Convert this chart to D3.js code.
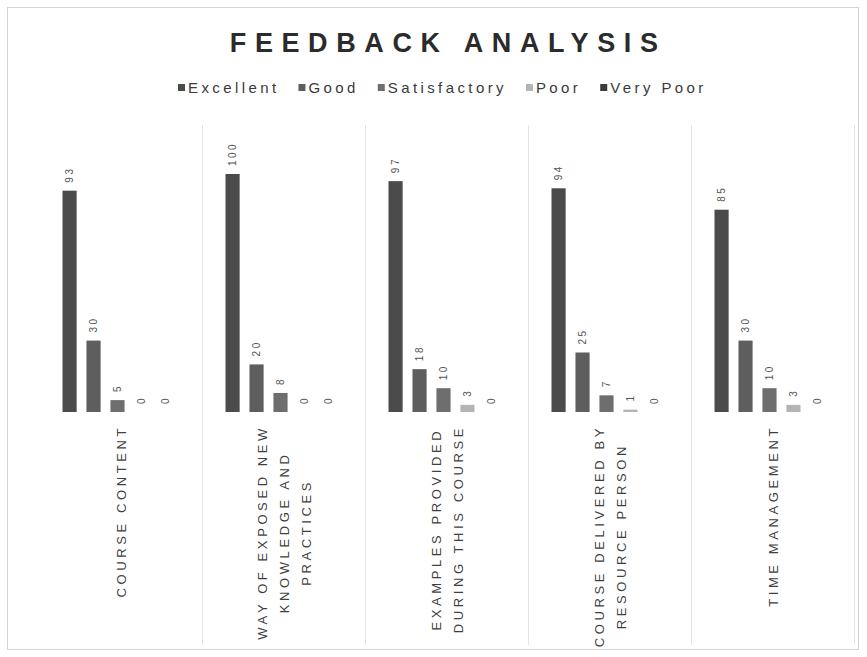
<!DOCTYPE html>
<html>
<head>
<meta charset="utf-8">
<script src="https://cdn.jsdelivr.net/npm/d3@7"></script>
<style>
  html, body { margin: 0; padding: 0; background: #ffffff; }
  svg { display: block; font-family: "Liberation Sans", Arial, sans-serif; }
</style>
</head>
<body>
<svg id="chart" width="867" height="657"></svg>
<script>
// ---- data ----
const title = "FEEDBACK ANALYSIS";
const categories = [
  "COURSE CONTENT",
  "WAY OF EXPOSED NEW KNOWLEDGE AND PRACTICES",
  "EXAMPLES PROVIDED DURING THIS COURSE",
  "COURSE DELIVERED BY RESOURCE PERSON",
  "TIME MANAGEMENT"
];
const categoryLines = [
  ["COURSE CONTENT"],
  ["WAY OF EXPOSED NEW", "KNOWLEDGE AND", "PRACTICES"],
  ["EXAMPLES PROVIDED", "DURING THIS COURSE"],
  ["COURSE DELIVERED BY", "RESOURCE PERSON"],
  ["TIME MANAGEMENT"]
];
const series = ["Excellent", "Good", "Satisfactory", "Poor", "Very Poor"];
const excellent    = [93, 100, 97, 94, 85];
const good         = [30, 20, 18, 25, 30];
const satisfactory = [5, 8, 10, 7, 10];
const poor         = [0, 0, 3, 1, 3];
const veryPoor     = [0, 0, 0, 0, 0];
const seriesValues = [excellent, good, satisfactory, poor, veryPoor];
const colors = ["#4b4b4b", "#5e5e5e", "#6e6e6e", "#b4b4b4", "#3a3a3a"];

// ---- layout ----
const svg = d3.select("#chart");
const plotLeft = 39.5, plotRight = 854.5, baseY = 412, topY = 174;

// border
svg.append("rect").attr("x", 7.5).attr("y", 7.5).attr("width", 851).attr("height", 642)
  .attr("fill", "none").attr("stroke", "#d4d4d4").attr("stroke-width", 1);

// title
svg.append("text").attr("x", 444 + 4.2).attr("y", 52)
  .attr("text-anchor", "middle").attr("font-size", 27).attr("font-weight", "bold")
  .attr("letter-spacing", "8.6px").attr("fill", "#2b2b2b").text(title);

// scales
const x0 = d3.scaleBand().domain(categories).range([plotLeft, plotRight]).padding(0);
const bw = x0.bandwidth();
const x1 = d3.scaleBand().domain(series).range([23, 133]).paddingInner(0.41).paddingOuter(0);
const y = d3.scaleLinear().domain([0, 100]).range([baseY, topY]);

// separators
svg.append("g").selectAll("line").data(categories).join("line")
  .attr("x1", d => x0(d) + bw).attr("x2", d => x0(d) + bw)
  .attr("y1", 125).attr("y2", 645)
  .attr("stroke", "#e4e4e4").attr("stroke-width", 1);

// legend
const legend = svg.append("g");
const legItems = legend.selectAll("g").data(series).join("g");
legItems.append("rect").attr("width", 7).attr("height", 7).attr("y", -9)
  .attr("fill", (d, i) => colors[i]);
legItems.append("text").attr("x", 10).attr("y", 0).attr("font-size", 15)
  .attr("letter-spacing", "3.4px").attr("fill", "#3a3a3a").text(d => d);
let lx = 0; const offs = [];
legItems.each(function () {
  const t = d3.select(this).select("text").node().getComputedTextLength();
  offs.push(lx); lx += 10 + t + 19;
});
legItems.attr("transform", (d, i) => `translate(${178 + offs[i]},93)`);

// bars
const groups = svg.append("g").selectAll("g").data(categories).join("g")
  .attr("transform", d => `translate(${x0(d)},0)`);
groups.selectAll("rect").data((d, ci) => series.map((s, si) => ({ s, si, v: seriesValues[si][ci] })))
  .join("rect")
  .attr("x", d => x1(d.s)).attr("width", x1.bandwidth())
  .attr("y", d => y(d.v)).attr("height", d => baseY - y(d.v))
  .attr("fill", d => colors[d.si]);

// value labels (rotated)
groups.selectAll("text.val").data((d, ci) => series.map((s, si) => ({ s, si, v: seriesValues[si][ci] })))
  .join("text").attr("class", "val")
  .attr("transform", d => `translate(${x1(d.s) + x1.bandwidth() / 2 + 3.5},${y(d.v) - 8}) rotate(-90)`)
  .attr("font-size", 10).attr("letter-spacing", "2.5px").attr("fill", "#555")
  .attr("text-anchor", "start").text(d => d.v);

// category labels (rotated, wrapped)
const labelTop = 425, lineGap = 22;
groups.each(function (d, ci) {
  const g = d3.select(this);
  const lines = categoryLines[ci];
  const cx = bw / 2;
  const texts = lines.map((ln, li) => {
    const xx = cx + (li - (lines.length - 1) / 2) * lineGap + 4.5;
    return g.append("text").attr("font-size", 13).attr("letter-spacing", "3.6px")
      .attr("fill", "#3f3f3f").attr("text-anchor", "middle").text(ln)
      .attr("data-x", xx);
  });
  const maxLen = d3.max(texts, t => t.node().getComputedTextLength());
  texts.forEach(t => {
    t.attr("transform", `translate(${t.attr("data-x")},${labelTop + maxLen / 2}) rotate(-90)`)
     .attr("data-x", null);
  });
});
</script>
</body>
</html>
